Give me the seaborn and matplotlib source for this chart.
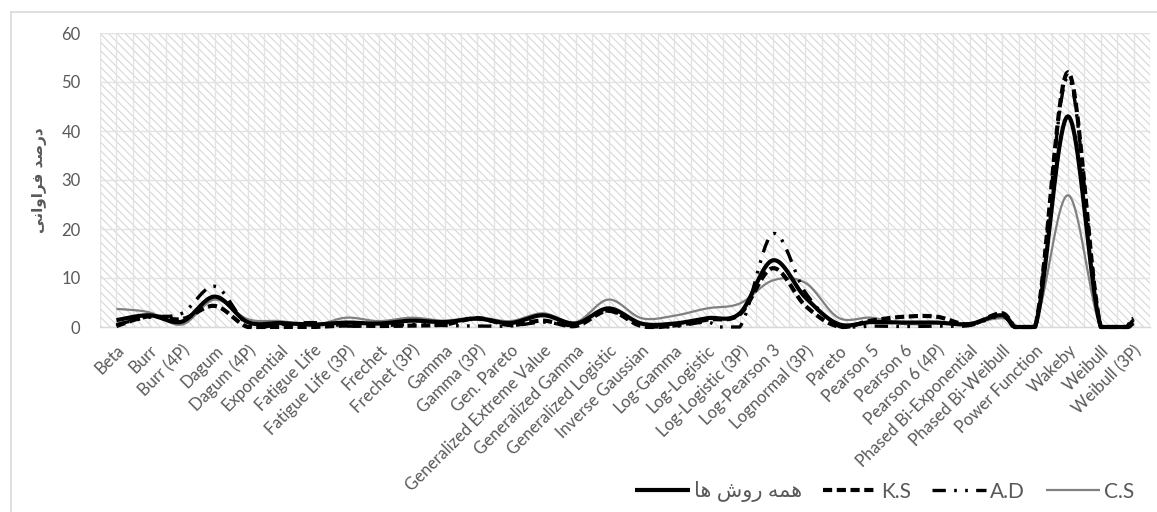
import numpy as np
import pandas as pd
import matplotlib
matplotlib.use('Agg')
import matplotlib.pyplot as plt
from matplotlib.patches import Rectangle
from matplotlib.lines import Line2D
import seaborn as sns

# distribution names on the x axis
distributions = [
    'Beta', 'Burr', 'Burr (4P)', 'Dagum', 'Dagum (4P)', 'Exponential',
    'Fatigue Life', 'Fatigue Life (3P)', 'Frechet', 'Frechet (3P)', 'Gamma',
    'Gamma (3P)', 'Gen. Pareto', 'Generalized Extreme Value',
    'Generalized Gamma', 'Generalized Logistic', 'Inverse Gaussian',
    'Log-Gamma', 'Log-Logistic', 'Log-Logistic (3P)', 'Log-Pearson 3',
    'Lognormal (3P)', 'Pareto', 'Pearson 5', 'Pearson 6', 'Pearson 6 (4P)',
    'Phased Bi-Exponential', 'Phased Bi-Weibull', 'Power Function', 'Wakeby',
    'Weibull', 'Weibull (3P)',
]

# frequency percent per method
all_methods = [1.4, 2.4, 1.1, 6.2, 1.0, 0.8, 0.5, 0.9, 0.7, 1.3, 1.0, 1.7,
               0.8, 2.4, 0.7, 3.8, 0.7, 0.7, 1.8, 2.8, 13.6, 6.0, 0.6, 1.0,
               0.9, 0.9, 0.6, 2.4, 0.0, 43.0, 0.0, 0.8]
ks = [0.2, 2.2, 1.6, 4.3, 0.0, 0.0, 0.0, 0.3, 0.2, 0.3, 0.5, 1.8,
      0.4, 1.3, 0.2, 3.3, 0.2, 0.3, 1.5, 2.6, 12.0, 4.3, 0.1, 1.3,
      2.1, 2.1, 0.5, 2.8, 0.0, 52.0, 0.0, 1.7]
ad = [0.5, 2.0, 2.8, 8.3, 0.5, 0.5, 0.9, 0.2, 0.3, 0.5, 0.3, 0.2,
      0.2, 1.0, 0.4, 3.3, 0.2, 0.1, 1.0, 0.0, 19.0, 7.0, 0.2, 0.2,
      0.1, 0.2, 0.3, 2.2, 0.0, 51.0, 0.0, 1.4]
cs = [3.7, 3.0, 0.5, 5.6, 1.6, 1.2, 0.3, 1.9, 1.2, 1.9, 1.3, 2.0,
      1.2, 2.8, 1.0, 5.6, 1.8, 2.3, 3.8, 4.8, 9.5, 9.0, 1.9, 1.9,
      0.6, 0.8, 0.8, 1.8, 0.8, 26.9, 0.0, 0.5]

# Persian labels in visual order (presentation forms, no bidi engine here)
label_all = '\uFE8E\uFEEB \uFEB5\uFEED\uFEAD \uFEEA\uFEE4\uFEEB'   # همه روش ها
ylabel_fa = '\uFBFD\uFEE7\uFE8D\uFEED\uFE8D\uFEAE\uFED3 \uFEAA\uFEBB\uFEAD\uFEA9'  # درصد فراوانی


def smooth(values, steps=24):
    """Excel-like smoothed line (cubic Bezier through every point)."""
    y = np.asarray(values, dtype=float)
    n = len(y)
    xs, ys = [], []
    for i in range(n - 1):
        y_prev = y[i - 1] if i > 0 else y[i]
        y_next = y[i + 2] if i + 2 < n else y[i + 1]
        x_prev = i - 1 if i > 0 else i
        x_next = i + 2 if i + 2 < n else i + 1
        p0 = np.array([i, y[i]])
        p3 = np.array([i + 1, y[i + 1]])
        c1 = p0 + (np.array([i + 1, y[i + 1]]) - np.array([x_prev, y_prev])) / 6
        c2 = p3 - (np.array([x_next, y_next]) - np.array([i, y[i]])) / 6
        t = np.linspace(0, 1, steps, endpoint=(i == n - 2))[:, None]
        pts = ((1 - t) ** 3) * p0 + 3 * ((1 - t) ** 2) * t * c1 + 3 * (1 - t) * t ** 2 * c2 + t ** 3 * p3
        xs.extend(pts[:, 0])
        ys.extend(pts[:, 1])
    # undershoot below the axis is drawn along zero
    return np.array(xs), np.maximum(np.array(ys), 0.0)


sns.set_style('white')
plt.rcParams['font.family'] = ['Lato', 'DejaVu Sans']
plt.rcParams['hatch.linewidth'] = 0.7

fig = plt.figure(figsize=(11.57, 5.12), dpi=100)
ax = fig.add_axes([100 / 1157, 1 - 327 / 512, 1050 / 1157, 294 / 512])

# hatched plot area
ax.add_patch(Rectangle((0, 0), 1, 1, transform=ax.transAxes, facecolor='white',
                       edgecolor='#d2d2d2', hatch='\\\\\\\\', lw=0, zorder=0))

series = [
    (label_all, all_methods, dict(color='black', lw=3.0, linestyle='-', zorder=4)),
    ('K.S', ks, dict(color='black', lw=3.0, linestyle=(0, (2.2, 1.1)), zorder=3)),
    ('A.D', ad, dict(color='black', lw=2.4, linestyle=(0, (4, 2.5, 0.8, 2.5, 0.8, 2.5)), zorder=3)),
    ('C.S', cs, dict(color='#808080', lw=1.6, linestyle='-', zorder=2)),
]

handles = []
for name, vals, style in series:
    sx, sy = smooth(vals)
    df = pd.DataFrame({'x': sx, 'y': sy})
    sns.lineplot(data=df, x='x', y='y', ax=ax, label=name, sort=False,
                 solid_capstyle='butt', dash_capstyle='butt', clip_on=False, **style)
    handles.append(ax.lines[-1])

ax.set_xlim(-0.5, len(distributions) - 0.5)
ax.set_ylim(0, 60)
ax.set_yticks(np.arange(0, 61, 10))
ax.set_xticks(np.arange(len(distributions)))
ax.set_xticks(np.arange(-0.5, len(distributions), 1.0), minor=True)
ax.set_xticklabels(distributions, rotation=45, ha='right', va='top',
                   rotation_mode='anchor', fontsize=12, color='#595959')
ax.tick_params(axis='y', labelsize=12, labelcolor='#595959', length=0, pad=14)
ax.tick_params(axis='x', which='both', length=0, pad=11)
ax.grid(True, which='major', axis='both', color='#e3e3e3', lw=1)
ax.grid(True, which='minor', axis='x', color='#e3e3e3', lw=1)
ax.set_axisbelow(True)
for side in ['left', 'right', 'top']:
    ax.spines[side].set_visible(False)
ax.spines['bottom'].set_color('#d9d9d9')
ax.spines['bottom'].set_linewidth(1)
ax.set_xlabel('')
ax.set_ylabel(ylabel_fa, fontsize=11, color='#595959', labelpad=10,
              family=['DejaVu Sans'], fontweight='bold')

ax.legend(handles=handles, labels=[s[0] for s in series], ncol=4,
          loc='center', bbox_to_anchor=(885 / 1157, 1 - 492 / 512),
          bbox_transform=fig.transFigure, frameon=False, fontsize=15,
          handlelength=2.6, handletextpad=0.2, columnspacing=1.0,
          labelcolor='#595959')

# chart frame (left and top edges visible)
fig.add_artist(Line2D([11 / 1157, 11 / 1157], [0, 1 - 12 / 512], color='#d9d9d9', lw=1.2))
fig.add_artist(Line2D([11 / 1157, 1], [1 - 12 / 512, 1 - 12 / 512], color='#d9d9d9', lw=1.2))

fig.savefig('out.png', dpi=100)
